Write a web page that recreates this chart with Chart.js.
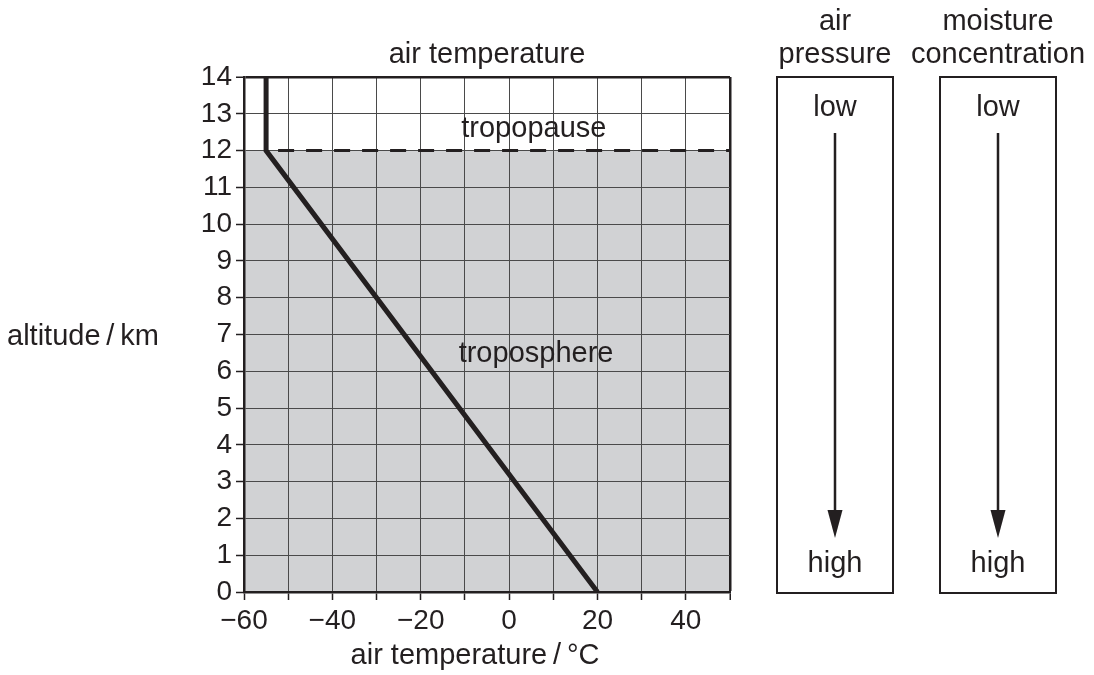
<!DOCTYPE html>
<html>
<head>
<meta charset="utf-8">
<script src="https://cdn.jsdelivr.net/npm/chart.js@4/dist/chart.umd.min.js"></script>
<style>
  html, body { margin: 0; padding: 0; background: #ffffff; }
  canvas { display: block; }
</style>
</head>
<body>
<canvas id="c" width="1094" height="675"></canvas>
<script>
// ---------------- data ----------------
const profileTemps = [20, -55, -55];          // °C
const profileAlts  = [0, 12, 14];             // km
const tropopauseAlt = 12;                      // km
const tropopauseTemps = [-55, 50];            // dashed line extent
const shadeTemps = [-60, 50];                 // shaded troposphere extent
const xTickValues = [-60, -40, -20, 0, 20, 40];
const xTickLabels = ['\u221260', '\u221240', '\u221220', '0', '20', '40'];
const yTickValues = [0,1,2,3,4,5,6,7,8,9,10,11,12,13,14];
const chartTitle = 'air temperature';
const xTitle = 'air temperature\u2009/\u2009\u00B0C';
const yTitle = 'altitude\u2009/\u2009km';
const regionNames = ['tropopause', 'troposphere'];
const regionTemps = [5.6, 6.1];
const regionAlts  = [12.6, 6.48];
const panelTitlesTop = ['air', 'moisture'];
const panelTitlesBottom = ['pressure', 'concentration'];
const panelLow = ['low', 'low'];
const panelHigh = ['high', 'high'];

// ---------------- styles ----------------
const INK = '#231f20';
const FONT = '"Liberation Sans", Arial, Helvetica, sans-serif';
const FS = 29;
const TFS = 28;

const profileData = profileTemps.map((t, i) => ({ x: t, y: profileAlts[i] }));
const tropoData = tropopauseTemps.map(t => ({ x: t, y: tropopauseAlt }));
const shadeData = shadeTemps.map(t => ({ x: t, y: tropopauseAlt }));

const annotations = {
  id: 'annotations',
  afterDraw(chart) {
    const { ctx, chartArea: a, scales: { x, y } } = chart;
    ctx.save();
    ctx.fillStyle = INK;
    ctx.font = FS + 'px ' + FONT;
    ctx.textAlign = 'center';
    ctx.textBaseline = 'middle';
    // chart title
    ctx.fillText(chartTitle, (a.left + a.right) / 2, 55);
    // x title
    ctx.fillText(xTitle, (a.left + a.right) / 2 - 12, 656);
    // region labels
    regionNames.forEach((n, i) => {
      ctx.fillText(n, x.getPixelForValue(regionTemps[i]), y.getPixelForValue(regionAlts[i]));
    });
    // y title (horizontal)
    ctx.textAlign = 'left';
    ctx.fillText(yTitle, 7, 337);

    // side panels
    const centers = [835, 998];
    const halfW = 58;
    ctx.textAlign = 'center';
    centers.forEach((cx, i) => {
      ctx.fillStyle = INK;
      ctx.fillText(panelTitlesTop[i], cx, 22);
      ctx.fillText(panelTitlesBottom[i], cx, 55);
      ctx.strokeStyle = INK;
      ctx.lineWidth = 2;
      ctx.strokeRect(cx - halfW, a.top, halfW * 2, a.bottom + 1 - a.top);
      ctx.fillText(panelLow[i], cx, 108);
      ctx.fillText(panelHigh[i], cx, 564);
      // arrow
      ctx.lineWidth = 2.5;
      ctx.beginPath();
      ctx.moveTo(cx, 133);
      ctx.lineTo(cx, 514);
      ctx.stroke();
      ctx.beginPath();
      ctx.moveTo(cx - 7.5, 510);
      ctx.lineTo(cx + 7.5, 510);
      ctx.lineTo(cx, 538);
      ctx.closePath();
      ctx.fill();
    });
    ctx.restore();
  }
};

new Chart(document.getElementById('c'), {
  type: 'line',
  data: {
    datasets: [
      {
        label: 'temperature profile',
        data: profileData,
        borderColor: INK,
        borderWidth: 5,
        borderJoinStyle: 'miter',
        borderCapStyle: 'butt',
        pointRadius: 0,
        fill: false,
        tension: 0
      },
      {
        label: 'tropopause',
        data: tropoData,
        borderColor: INK,
        borderWidth: 3,
        borderDash: [16, 12],
        borderDashOffset: 16,
        pointRadius: 0,
        fill: false
      },
      {
        label: 'troposphere',
        data: shadeData,
        borderWidth: 0,
        borderColor: 'rgba(0,0,0,0)',
        backgroundColor: '#d1d2d4',
        pointRadius: 0,
        fill: 'origin'
      }
    ]
  },
  options: {
    responsive: false,
    animation: false,
    events: [],
    layout: { padding: { top: 77, right: 364, bottom: 0, left: 0 } },
    plugins: {
      legend: { display: false },
      tooltip: { enabled: false },
      title: { display: false },
      filler: { drawTime: 'beforeDraw' }
    },
    scales: {
      x: {
        type: 'linear',
        min: -60,
        max: 50,
        afterFit(scale) { scale.height = 83; },
        afterBuildTicks(scale) {
          const t = [];
          for (let v = -60; v <= 50; v += 10) t.push({ value: v });
          scale.ticks = t;
        },
        ticks: {
          autoSkip: false,
          maxRotation: 0,
          padding: 4,
          color: INK,
          font: { family: FONT, size: TFS },
          callback(v) {
            const i = xTickValues.indexOf(v);
            return i >= 0 ? xTickLabels[i] : '';
          }
        },
        grid: {
          drawTicks: true,
          tickLength: 8,
          tickColor: INK,
          tickWidth: 1.5,
          color: ctx => (ctx.tick && ctx.tick.value === 50) ? INK : '#4a4a4a',
          lineWidth: ctx => (ctx.tick && ctx.tick.value === 50) ? 2.5 : 1
        },
        border: { display: true, color: INK, width: 2.5 },
        title: { display: false }
      },
      y: {
        type: 'linear',
        min: 0,
        max: 14,
        afterFit(scale) { scale.width = 244; },
        afterBuildTicks(scale) {
          scale.ticks = yTickValues.map(v => ({ value: v }));
        },
        ticks: {
          autoSkip: false,
          padding: 4,
          color: INK,
          font: { family: FONT, size: TFS }
        },
        grid: {
          drawTicks: true,
          tickLength: 8,
          tickColor: INK,
          tickWidth: 1.5,
          color: ctx => (ctx.tick && ctx.tick.value === 14) ? INK : '#4a4a4a',
          lineWidth: ctx => (ctx.tick && ctx.tick.value === 14) ? 2.5 : 1
        },
        border: { display: true, color: INK, width: 2.5 }
      }
    }
  },
  plugins: [annotations]
});
</script>
</body>
</html>
